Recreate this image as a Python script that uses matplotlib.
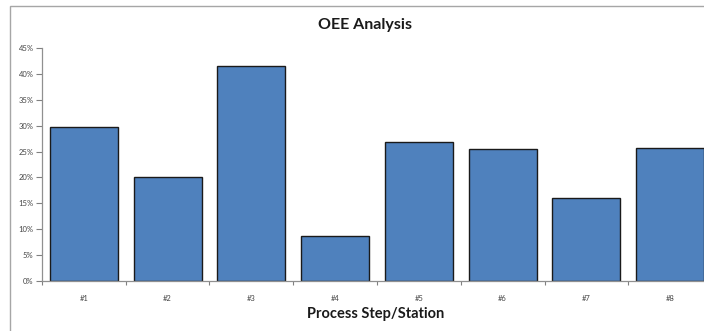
import matplotlib
matplotlib.use("Agg")
import matplotlib.pyplot as plt
import numpy as np
from matplotlib.patches import Rectangle
from matplotlib.ticker import FixedLocator, PercentFormatter

# ---------------------------
# data
# ---------------------------
stations = ["#1", "#2", "#3", "#4", "#5", "#6", "#7", "#8"]
oee = [29.7, 20.1, 41.5, 8.6, 26.8, 25.5, 16.1, 25.7]
yticks = [0, 5, 10, 15, 20, 25, 30, 35, 40, 45]

plt.rcParams["font.family"] = ["Lato", "DejaVu Sans"]

W, H = 704, 331
fig = plt.figure(figsize=(W / 100, H / 100), dpi=100)

# outer chart frame (runs off the right and bottom of the canvas)
frame = Rectangle((10 / W, -0.05), 1.2, 1 - 6 / H + 0.05,
                  transform=fig.transFigure, fill=False,
                  edgecolor="#a6a6a6", linewidth=1.0)
fig.patches.append(frame)

# plot area: 8 categories, the last one partly cut off on the right
ax = fig.add_axes([42 / W, 1 - 281 / H, 670 / W, (281 - 48) / H])

x = np.arange(len(stations))
ax.bar(x, oee, width=0.81, color="#4f81bd", edgecolor="#1a1a1a",
       linewidth=1.0, zorder=2)

ax.set_xlim(-0.5, len(stations) - 0.5)
ax.set_ylim(0, 45)

ax.yaxis.set_major_locator(FixedLocator(yticks))
ax.yaxis.set_major_formatter(PercentFormatter(decimals=0))
ax.tick_params(axis="y", labelsize=5.5, colors="#808080", labelcolor="#444444",
               length=4, width=0.8, direction="out", pad=2)

# category labels in the middle, tick marks on the boundaries
ax.set_xticks(x)
ax.set_xticklabels(stations)
ax.set_xticks(np.arange(len(stations)) - 0.5, minor=True)
ax.tick_params(axis="x", which="major", length=0, labelsize=5.5,
               labelcolor="#444444", pad=10)
ax.tick_params(axis="x", which="minor", length=3, width=0.8,
               color="#808080", direction="out")

for side in ["top", "right"]:
    ax.spines[side].set_visible(False)
for side in ["left", "bottom"]:
    ax.spines[side].set_color("#909090")
    ax.spines[side].set_linewidth(0.9)

fig.text(365 / W, 1 - 25 / H, "OEE Analysis", ha="center", va="center",
         fontsize=11.5, fontweight="bold", color="#1a1a1a")
fig.text(376 / W, 1 - 314 / H, "Process Step/Station", ha="center",
         va="center", fontsize=10.5, fontweight="bold", color="#1a1a1a")

fig.savefig("out.png", dpi=100)
plt.close(fig)
